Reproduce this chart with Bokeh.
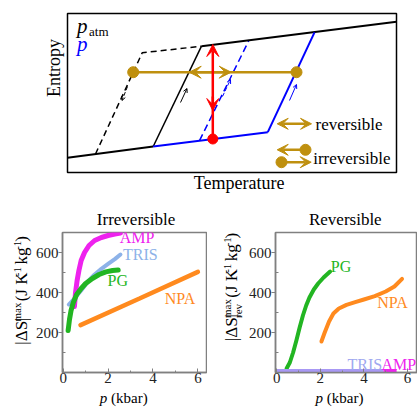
import math
from bokeh.plotting import figure
from bokeh.models import Label, Arrow, VeeHead, OpenHead, FixedTicker, Range1d
from bokeh.layouts import column, row
from bokeh.embed import file_html
from bokeh.resources import INLINE

SERIF = "Liberation Serif"
GOLD = "#BF900F"
RED = "#FF0000"
BLUE = "#0000FF"
AXC = "#808080"
C_AMP = "#EE22EE"
C_TRIS = "#8DB2E8"
C_TRIS_R = "#A898F4"
C_PG = "#22B522"
C_NPA = "#FF8A1E"

# ---------------- data: schematic S(T) diagram (arbitrary units) ----------------
BOX_T = [0.0, 329.0]
BOX_S = [0.0, 159.0]
patm_low_T = [0.0, 85.7]
patm_low_S = [14.7, 26.0]
patm_rise_T = [85.7, 134.0]
patm_rise_S = [26.0, 126.3]
high_T = [134.0, 329.0]
high_S = [126.3, 150.7]
p_low_T = [85.7, 200.3]
p_low_S = [26.0, 40.3]
p_rise_T = [200.3, 247.0]
p_rise_S = [40.3, 140.2]
patm_cool_T = [28.0, 74.7, 134.0]
patm_cool_S = [18.5, 119.7, 126.3]
p_cool_T = [132.0, 181.5]
p_cool_S = [31.8, 132.3]
irr_T = [65.7, 229.0]
irr_S = [100.3, 100.3]
rev_T = [121.7, 163.7]
rev_S = [100.3, 100.3]
red_T = [145.3, 145.3]
red_S = [33.5, 128.0]
red_down_S = [76.0, 62.0]

# ---------------- data: irreversible |ΔS|max vs p ----------------
irr_AMP_p = [0.5, 0.55, 0.62, 0.7, 0.8, 0.95, 1.15, 1.4, 1.7, 2.0, 2.3, 2.55]
irr_AMP_s = [330, 400, 460, 510, 560, 600, 635, 660, 675, 685, 692, 697]
irr_TRIS_p = [0.25, 0.5, 0.8, 1.1, 1.4, 1.7, 2.0, 2.3, 2.55]
irr_TRIS_s = [340, 370, 410, 455, 490, 518, 543, 567, 590]
irr_PG_p = [0.22, 0.28, 0.35, 0.45, 0.6, 0.8, 1.0, 1.3, 1.6, 1.9, 2.2, 2.45]
irr_PG_s = [210, 265, 310, 350, 390, 420, 445, 470, 490, 503, 510, 513]
irr_NPA_p = [0.77, 3.4, 6.0]
irr_NPA_s = [237, 370, 503]

# ---------------- data: reversible |ΔS|max_rev vs p ----------------
rev_PG_p = [0.45, 0.6, 0.75, 0.9, 1.05, 1.2, 1.35, 1.5, 1.7, 1.9, 2.15, 2.45]
rev_PG_s = [20, 50, 100, 160, 225, 285, 335, 375, 415, 445, 475, 505]
rev_NPA_p = [2.05, 2.2, 2.4, 2.6, 2.85, 3.2, 3.6, 4.0, 4.5, 5.0, 5.4, 5.75]
rev_NPA_s = [155, 200, 255, 295, 320, 338, 352, 365, 382, 405, 430, 468]
rev_TRIS_p = [0.0, 4.9]
rev_TRIS_s = [0, 0]
rev_AMP_p = [4.9, 5.5]
rev_AMP_s = [0, 0]

x_ticks = [0, 2, 4, 6]
x_minor = [1, 3, 5]
y_ticks = [200, 400, 600]
y_minor = [100, 300, 500]


def tlabel(fig, x, y, text, size, color="black", style="normal", align="left", angle=0.0):
    fig.add_layout(Label(x=x, y=y, text=text, text_font=SERIF, text_font_size=f"{size}px",
                         text_color=color, text_font_style=style, text_align=align,
                         text_baseline="middle", angle=angle))


def canvas(x0, y0, w, h):
    """A blank figure whose data coordinates are page pixels (y negated)."""
    f = figure(width=w, height=h, x_range=Range1d(x0, x0 + w), y_range=Range1d(-(y0 + h), -y0),
               toolbar_location=None, output_backend="svg",
               x_axis_location=None, y_axis_location=None, min_border=0)
    f.grid.visible = False
    f.outline_line_color = None
    return f

# ======================= top schematic =======================
top = figure(width=417, height=228, x_range=Range1d(-67, 350), y_range=Range1d(-56, 172),
             toolbar_location=None, output_backend="svg",
             x_axis_location=None, y_axis_location=None, min_border=0)
top.grid.visible = False
top.outline_line_color = None
top.quad(left=[BOX_T[0]], right=[BOX_T[1]], bottom=[BOX_S[0]], top=[BOX_S[1]],
         fill_color=None, line_color="black", line_width=1.5)

top.line(patm_cool_T, patm_cool_S, color="black", line_width=1.5, line_dash="6 4")
top.line(p_cool_T, p_cool_S, color=BLUE, line_width=1.5, line_dash="7 4")
top.line(patm_low_T, patm_low_S, color="black", line_width=2)
top.line(patm_rise_T, patm_rise_S, color="black", line_width=1.5)
top.line(high_T, high_S, color="black", line_width=2)
top.line(p_low_T, p_low_S, color=BLUE, line_width=2)
top.line(p_rise_T, p_rise_S, color=BLUE, line_width=2)


def small_arrow(x0, y0, x1, y1, c, dash="solid"):
    top.add_layout(Arrow(end=OpenHead(size=4, line_color=c, line_width=1),
                         x_start=x0, y_start=y0, x_end=x1, y_end=y1,
                         line_color=c, line_width=1, line_dash=dash))

small_arrow(60.0, 86.0, 54.5, 72.0, "black", "4 2")
small_arrow(113.0, 70.0, 119.5, 84.0, "black")
small_arrow(155.0, 76.0, 163.0, 93.0, BLUE, "4 2")
small_arrow(222.0, 72.0, 229.0, 88.0, BLUE)

top.line(irr_T, irr_S, color=GOLD, line_width=2.5)
top.scatter(irr_T, irr_S, size=11, color=GOLD)
top.add_layout(Arrow(start=VeeHead(size=12, fill_color=GOLD, line_color=GOLD),
                     end=VeeHead(size=12, fill_color=GOLD, line_color=GOLD),
                     x_start=rev_T[0], y_start=rev_S[0], x_end=rev_T[1], y_end=rev_S[1],
                     line_color=GOLD, line_width=2.5))

top.add_layout(Arrow(end=VeeHead(size=12, fill_color=RED, line_color=RED),
                     x_start=red_T[0], y_start=red_S[0], x_end=red_T[1], y_end=red_S[1],
                     line_color=RED, line_width=2.5))
top.add_layout(Arrow(end=VeeHead(size=12, fill_color=RED, line_color=RED),
                     x_start=red_T[0], y_start=red_down_S[0], x_end=red_T[0], y_end=red_down_S[1],
                     line_color=RED, line_width=2.5))
top.scatter([red_T[0]], [red_S[0]], size=10, color=RED)

# legend inside the box
top.add_layout(Arrow(start=VeeHead(size=11, fill_color=GOLD, line_color=GOLD),
                     end=VeeHead(size=11, fill_color=GOLD, line_color=GOLD),
                     x_start=209.7, y_start=48.7, x_end=244.0, y_end=48.7,
                     line_color=GOLD, line_width=2.5))
top.add_layout(Arrow(end=VeeHead(size=11, fill_color=GOLD, line_color=GOLD),
                     x_start=238.0, y_start=22.7, x_end=209.7, y_end=22.7,
                     line_color=GOLD, line_width=2.5))
top.add_layout(Arrow(end=VeeHead(size=11, fill_color=GOLD, line_color=GOLD),
                     x_start=214.0, y_start=10.3, x_end=243.7, y_end=10.3,
                     line_color=GOLD, line_width=2.5))
top.scatter([238.0, 214.0], [22.7, 10.3], size=11, color=GOLD)

tlabel(top, 248.0, 48.5, "reversible", 17)
tlabel(top, 245.7, 14.5, "irreversible", 17)
tlabel(top, 9.5, 146.6, "p", 21, style="italic")
tlabel(top, 21.5, 141.2, "atm", 13)
tlabel(top, 9.5, 128.6, "p", 21, color=BLUE, style="italic")
tlabel(top, -13.6, 104.5, "Entropy", 18, align="center", angle=math.pi / 2)
tlabel(top, 171.7, -10.2, "Temperature", 18, align="center")
# titles of the lower panels
tlabel(top, 135.5 - 67, 172 - 218.5, "Irreversible", 17, align="center")
tlabel(top, 344.8 - 67, 172 - 218.5, "Reversible", 17, align="center")

# ======================= bottom panels =======================

def make_panel(width, mleft, mright, xr):
    f = figure(width=width, height=161, x_range=Range1d(*xr), y_range=Range1d(0, 700),
               toolbar_location=None, output_backend="svg",
               min_border_left=mleft, min_border_right=mright,
               min_border_top=4, min_border_bottom=17)
    f.grid.visible = False
    f.xaxis.ticker = FixedTicker(ticks=x_ticks, minor_ticks=x_minor)
    f.yaxis.ticker = FixedTicker(ticks=y_ticks, minor_ticks=y_minor)
    for ax in f.axis:
        ax.axis_line_color = AXC
        ax.axis_line_width = 1.5
        ax.major_tick_line_color = AXC
        ax.minor_tick_line_color = AXC
        ax.major_label_text_font = SERIF
        ax.major_label_text_font_size = "15px"
        ax.major_label_text_color = "#222222"
        ax.major_label_standoff = 0
    f.xaxis.major_tick_in = 4
    f.xaxis.major_tick_out = 0
    f.xaxis.minor_tick_in = 2
    f.xaxis.minor_tick_out = 0
    f.yaxis.major_tick_in = 0
    f.yaxis.major_tick_out = 4
    f.yaxis.minor_tick_in = 3
    f.yaxis.minor_tick_out = 0
    f.outline_line_color = AXC
    f.outline_line_width = 1.5
    return f

# ---- left: irreversible ----
left = make_panel(175, 30, 1, (-0.031, 6.383))
left.line(irr_TRIS_p, irr_TRIS_s, color=C_TRIS, line_width=4, line_cap="round", line_join="round")
left.line(irr_AMP_p, irr_AMP_s, color=C_AMP, line_width=5, line_cap="round", line_join="round")
left.line(irr_PG_p, irr_PG_s, color=C_PG, line_width=5, line_cap="round", line_join="round")
left.line(irr_NPA_p, irr_NPA_s, color=C_NPA, line_width=4.5, line_cap="round")
tlabel(left, 3.29, 675, "AMP", 16, C_AMP, align="center")
tlabel(left, 3.44, 588, "TRIS", 16, C_TRIS, align="center")
tlabel(left, 2.43, 458, "PG", 16, C_PG, align="center")
tlabel(left, 5.2, 368, "NPA", 16, C_NPA, align="center")

# ---- right: reversible ----
right = make_panel(172, 27, 0, (-0.058, 6.459))
right.line(rev_PG_p, rev_PG_s, color=C_PG, line_width=4, line_cap="round", line_join="round")
right.line(rev_NPA_p, rev_NPA_s, color=C_NPA, line_width=4, line_cap="round", line_join="round")
right.line(rev_TRIS_p, rev_TRIS_s, color=C_TRIS_R, line_width=7)
right.line(rev_AMP_p, rev_AMP_s, color=C_AMP, line_width=7)
tlabel(right, 2.95, 528, "PG", 16, C_PG, align="center")
tlabel(right, 5.31, 348, "NPA", 16, C_NPA, align="center")
tlabel(right, 4.04, 42, "TRIS", 16, "#A0A8F0", align="center")
tlabel(right, 5.6, 42, "AMP", 16, C_AMP, align="center")

# ---- rotated y labels (pieces with super/subscripts) ----
W = {' ': 250, '(': 333, ')': 333, '|': 200, 'Δ': 612, 'S': 556, 'J': 389, 'K': 722,
     'k': 500, 'g': 500, '-': 333, '1': 500, 'm': 778, 'a': 444, 'x': 500}
MAIN, SMALL = 17, 11
SPACE = 0.25 * MAIN


def tw(s, size):
    return sum(W[c] for c in s) * size / 1000.0


def ylabel(fig, base_px, start_py, with_rev):
    # (text, size, baseline shift, stacked subscript, gap before)
    pieces = [("|ΔS|", MAIN, 0, None, 0), ("max", SMALL, -6.5, "rev" if with_rev else None, 0),
              ("(J K", MAIN, 0, None, SPACE), ("-1", SMALL, -6.5, None, 0),
              ("kg", MAIN, 0, None, SPACE), ("-1", SMALL, -6.5, None, 0),
              (")", MAIN, 0, None, 0)]
    pos = start_py
    for text, size, shift, sub, gap in pieces:
        pos -= gap
        mid = base_px + shift - 0.34 * size
        tlabel(fig, mid, -pos, text, size, angle=math.pi / 2)
        if sub:
            tlabel(fig, base_px + 4.0 - 0.34 * size, -pos, sub, size, angle=math.pi / 2)
        pos -= tw(text, size)

ylab_l = canvas(0, 228, 32, 161)
ylabel(ylab_l, 27.0, 357.0, False)
ylab_r = canvas(207, 228, 38, 161)
ylabel(ylab_r, 237.0, 353.0, True)

# ---- x labels ----
xlab = canvas(0, 389, 417, 19)
for x0 in (99.3, 315.0):
    tlabel(xlab, x0, -397.5, "p", 15, style="italic")
    tlabel(xlab, x0 + 7.5 + 3.75, -397.5, "(kbar)", 15)

layout = column(top, row(ylab_l, left, ylab_r, right, spacing=0), xlab, spacing=0)
open("out.html", "w").write(file_html(layout, INLINE))
